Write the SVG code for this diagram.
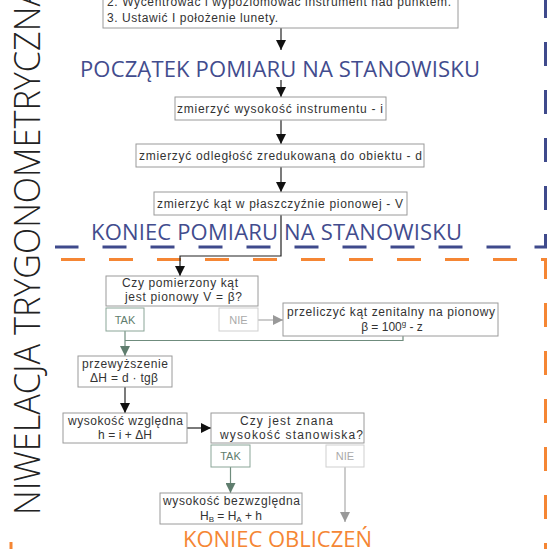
<svg xmlns="http://www.w3.org/2000/svg" width="547" height="549" viewBox="0 0 547 549">
<defs>
<style>
.box{fill:#fff;stroke:#9a9a9a;stroke-width:1}
.t{font-family:"Liberation Sans",Arial,sans-serif;font-size:12px;fill:#333}
.c{text-anchor:middle}
.h{font-family:"Open Sans","Liberation Sans",sans-serif;font-size:22px;fill:#424c8e}
.tak{fill:#fff;stroke:#8aa597;stroke-width:1}
.nie{fill:#fff;stroke:#cfcfcf;stroke-width:1}
.takt{font-family:"Liberation Sans",Arial,sans-serif;font-size:11px;fill:#5f7d6e;text-anchor:middle}
.niet{font-family:"Liberation Sans",Arial,sans-serif;font-size:11px;fill:#aaa;text-anchor:middle}
.k{fill:none;stroke:#222;stroke-width:1.2}
.g{fill:none;stroke:#6f8c7d;stroke-width:1.2}
.y{fill:none;stroke:#aaa;stroke-width:1.2}
</style>
<marker id="ak" markerUnits="userSpaceOnUse" markerWidth="10" markerHeight="10" viewBox="0 0 10 10" refX="10" refY="5" orient="auto"><path d="M0,0 L10,5 L0,10 z" fill="#111"/></marker>
<marker id="ag" markerUnits="userSpaceOnUse" markerWidth="10" markerHeight="10" viewBox="0 0 10 10" refX="10" refY="5" orient="auto"><path d="M0,0 L10,5 L0,10 z" fill="#5f7d6e"/></marker>
<marker id="ay" markerUnits="userSpaceOnUse" markerWidth="10" markerHeight="10" viewBox="0 0 10 10" refX="10" refY="5" orient="auto"><path d="M0,0 L10,5 L0,10 z" fill="#999"/></marker>
</defs>
<rect width="547" height="549" fill="#fff"/>

<g id="frames">
<path d="M545.5,0 V247 H55" fill="none" stroke="#3f4a8c" stroke-width="3" stroke-dasharray="24 24" stroke-dashoffset="6"/>
<path d="M61,259.5 H545.5 V560" fill="none" stroke="#f58634" stroke-width="3" stroke-dasharray="24 24"/>
<path d="M11,542 V549" fill="none" stroke="#f58634" stroke-width="3"/>
</g>

<g id="title">
<text transform="translate(40,515) rotate(-90)" font-family="'Open Sans','Liberation Sans',sans-serif" font-size="36" font-weight="300" fill="#222" textLength="529" lengthAdjust="spacingAndGlyphs">NIWELACJA TRYGONOMETRYCZNA</text>
</g>

<g id="connectors">
<path class="k" d="M281,28 V50" marker-end="url(#ak)"/>
<path class="k" d="M281,80 V97" marker-end="url(#ak)"/>
<path class="k" d="M281,120 V144" marker-end="url(#ak)"/>
<path class="k" d="M281,167 V192" marker-end="url(#ak)"/>
<path class="k" d="M281,215 V256 H180 V276" marker-end="url(#ak)"/>
<path class="g" d="M125,331 V356" marker-end="url(#ag)"/>
<path class="y" d="M258,320 H283" marker-end="url(#ay)"/>
<path class="g" d="M403,336 V340.5 H125"/>
<path class="k" d="M125,387 V413" marker-end="url(#ak)"/>
<path class="k" d="M187,428 H211" marker-end="url(#ak)"/>
<path class="g" d="M230.5,467 V493" marker-end="url(#ag)"/>
<path class="y" d="M345,467 V522" marker-end="url(#ay)"/>
</g>

<g id="start-steps">
<rect class="box" x="103" y="-30" width="355" height="58"/>
<text class="t" x="107" y="6" textLength="344">2. Wycentrować i wypoziomować instrument nad punktem.</text>
<text class="t" x="107" y="22" textLength="171">3. Ustawić I położenie lunety.</text>
</g>

<g id="heading-start">
<text class="h" x="80" y="77" textLength="400">POCZĄTEK POMIARU NA STANOWISKU</text>
</g>

<g id="measure-i">
<rect class="box" x="175" y="97" width="211" height="23"/>
<text class="t" x="177" y="113" textLength="206">zmierzyć wysokość instrumentu - i</text>
</g>

<g id="measure-d">
<rect class="box" x="136" y="144" width="288" height="23"/>
<text class="t" x="139" y="160" textLength="283">zmierzyć odległość zredukowaną do obiektu - d</text>
</g>

<g id="measure-v">
<rect class="box" x="154" y="192" width="253" height="23"/>
<text class="t" x="157" y="208" textLength="246">zmierzyć kąt w płaszczyźnie pionowej - V</text>
</g>

<g id="heading-end">
<text class="h" x="91" y="240" textLength="371">KONIEC POMIARU NA STANOWISKU</text>
</g>

<g id="decision-angle">
<rect class="box" x="106" y="276" width="152" height="30"/>
<text class="t" x="122" y="287" textLength="116">Czy pomierzony kąt</text>
<text class="t" x="125" y="301" textLength="117">jest pionowy V = β?</text>
<rect class="tak" x="106" y="308" width="38" height="23"/>
<text class="takt" x="125" y="324">TAK</text>
<rect class="nie" x="219" y="308" width="39" height="23"/>
<text class="niet" x="238.5" y="324">NIE</text>
</g>

<g id="convert">
<rect class="box" x="283" y="303" width="215" height="33"/>
<text class="t" x="287" y="316" textLength="208">przeliczyć kąt zenitalny na pionowy</text>
<text class="t c" x="392" y="331">β = 100<tspan font-size="8" dy="-5">g</tspan><tspan dy="5"> - z</tspan></text>
</g>

<g id="dh">
<rect class="box" x="78" y="356" width="94" height="31"/>
<text class="t" x="82" y="368" textLength="86">przewyższenie</text>
<text class="t" x="90" y="382" textLength="68">ΔH = d · tgβ</text>
</g>

<g id="relative">
<rect class="box" x="63" y="413" width="124" height="30"/>
<text class="t" x="68" y="425" textLength="115">wysokość względna</text>
<text class="t" x="98" y="439" textLength="54">h = i + ΔH</text>
</g>

<g id="decision-station">
<rect class="box" x="211" y="413" width="153" height="30"/>
<text class="t" x="240" y="425" textLength="93">Czy jest znana</text>
<text class="t" x="220" y="439" textLength="143">wysokość stanowiska?</text>
<rect class="tak" x="211" y="445" width="39" height="22"/>
<text class="takt" x="230.5" y="460">TAK</text>
<rect class="nie" x="326" y="445" width="38" height="22"/>
<text class="niet" x="345" y="460">NIE</text>
</g>

<g id="absolute">
<rect class="box" x="160" y="493" width="142" height="31"/>
<text class="t" x="163" y="505" textLength="137">wysokość bezwzględna</text>
<text class="t c" x="231" y="520">H<tspan font-size="8" dy="2">B</tspan><tspan dy="-2"> = H</tspan><tspan font-size="8" dy="2">A</tspan><tspan dy="-2"> + h</tspan></text>
</g>

<g id="heading-calc-end">
<text x="183" y="547" font-family="'Open Sans','Liberation Sans',sans-serif" font-size="22" fill="#f58634" textLength="189">KONIEC OBLICZEŃ</text>
</g>
</svg>
